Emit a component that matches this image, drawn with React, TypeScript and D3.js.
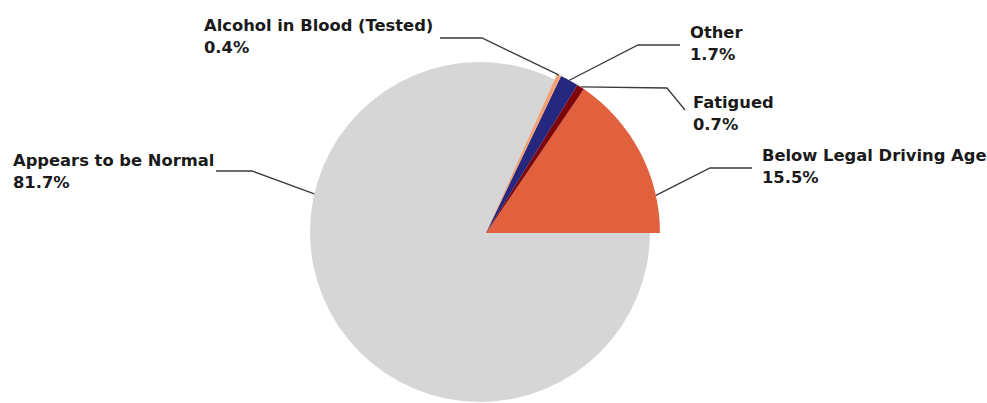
import React from "react";
import * as d3 from "d3";

// Data (counter-clockwise from 3 o'clock)
const categories = [
  "Below Legal Driving Age",
  "Fatigued",
  "Other",
  "Alcohol in Blood (Tested)",
  "Appears to be Normal",
];
const values = [15.5, 0.7, 1.7, 0.4, 81.7];
const colors = ["#e1603d", "#7e0508", "#26287f", "#f3a172", "#d6d6d6"];

// Label layout (text position, leader elbows, anchor fraction inside slice)
type Lay = { tx: number; ty: number; pts: [number, number][]; frac: number; anchorFirst: boolean };
const layout: Lay[] = [
  { tx: 762, ty: 160.5, pts: [[752, 168], [710, 168]], frac: 0.224, anchorFirst: false },
  { tx: 693, ty: 108, pts: [[667, 88], [685, 110]], frac: 0.5, anchorFirst: true },
  { tx: 690, ty: 37.5, pts: [[680, 45], [638, 45]], frac: 0.5, anchorFirst: false },
  { tx: 204, ty: 30.5, pts: [[440, 38], [482, 38]], frac: 0.5, anchorFirst: false },
  { tx: 13, ty: 165.5, pts: [[216, 171], [252, 171]], frac: 0.344, anchorFirst: false },
];

const W = 987;
const H = 403;
const mainC = { x: 486, y: 233, r: 174 };
const grayC = { x: 480, y: 232, r: 170 };

export default function App() {
  const pie = d3
    .pie<number>()
    .sort(null)
    .startAngle(Math.PI / 2)
    .endAngle(Math.PI / 2 - 2 * Math.PI);
  const arcs = pie(values);
  const last = values.length - 1;

  const shapes = arcs.map((a, i) => {
    const big = i === last;
    const c = big ? grayC : mainC;
    const gen = d3.arc<any>().innerRadius(0).outerRadius(c.r);
    // the large slice is drawn underneath as a full disc so no gaps show at the offset vertex
    const s = big ? a.endAngle + 2 * Math.PI : a.startAngle;
    return { path: gen({ startAngle: s, endAngle: a.endAngle }) as string, c, i, big };
  });
  const order = [...shapes].sort((p, q) => (q.big ? 1 : 0) - (p.big ? 1 : 0));

  const line = d3.line();

  return (
    <svg width={W} height={H} style={{ display: "block", position: "absolute", left: 0, top: 0 }}>
      <rect width={W} height={H} fill="#ffffff" />
      {order.map((s) => (
        <path key={s.i} d={s.path} fill={colors[s.i]} transform={`translate(${s.c.x},${s.c.y})`} />
      ))}
      {arcs.map((a, i) => {
        const L = layout[i];
        const big = i === last;
        const c = big ? grayC : mainC;
        const ang = a.startAngle + (a.endAngle - a.startAngle) * L.frac;
        const ax = c.x + c.r * Math.sin(ang);
        const ay = c.y - c.r * Math.cos(ang);
        const pts: [number, number][] = L.anchorFirst ? [[ax, ay], ...L.pts] : [...L.pts, [ax, ay]];
        return (
          <g key={i}>
            <path d={line(pts) as string} fill="none" stroke="#3a3a3a" strokeWidth={1.3} />
            <text
              transform={`translate(${L.tx},${L.ty}) scale(1.09,1)`}
              fontFamily="DejaVu Sans, Verdana, sans-serif"
              fontWeight="bold"
              fontSize={15}
              fill="#1a1a1a"
            >
              <tspan x={0} y={0}>{categories[i]}</tspan>
              <tspan x={0} dy={22.3}>{values[i].toFixed(1) + "%"}</tspan>
            </text>
          </g>
        );
      })}
    </svg>
  );
}
